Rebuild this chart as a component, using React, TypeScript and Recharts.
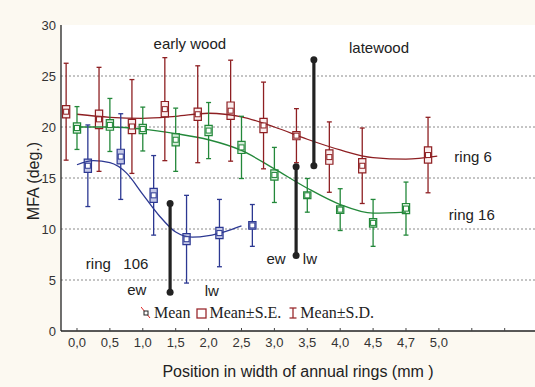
import {
  CartesianGrid,
  ComposedChart,
  Line,
  ReferenceArea,
  ReferenceDot,
  ReferenceLine,
  Scatter,
  XAxis,
  YAxis,
} from 'recharts';

// x axis categories (position across the annual ring, mm)
const categories = ['0,0', '0,5', '1,0', '1,5', '2,0', '2,5', '3,0', '3,5', '4,0', '4,5', '4,7', '5,0'];
const tickSlots = [0, 1, 2, 3, 4, 5, 6, 7, 8, 9, 10, 11, 12, 13];
const yTicks = [0, 5, 10, 15, 20, 25, 30];

// ring 6
const ring6Slots = [0, 1, 2, 3, 4, 5, 6, 7, 8, 9, 11];
const ring6Mean = [21.5, 20.75, 20.05, 21.75, 21.25, 21.6, 20.15, 19.15, 17.05, 16.2, 17.25];
const ring6SE = [0.6, 0.9, 0.7, 0.75, 0.6, 0.85, 0.7, 0.4, 0.7, 0.7, 0.8];
const ring6SD = [4.75, 5.1, 4.6, 5.05, 4.75, 4.95, 4.25, 2.65, 3.45, 3.7, 3.7];
const ring6FitX = [0, 1, 2, 3, 4, 5, 6, 7, 8, 9, 10, 10.95];
const ring6FitY = [21.25, 20.95, 20.85, 21.05, 21.35, 21.0, 20.0, 18.8, 17.75, 17.0, 16.85, 17.15];

// ring 16
const ring16Slots = [0, 1, 2, 3, 4, 5, 6, 7, 8, 9, 10];
const ring16Mean = [19.9, 20.2, 19.8, 18.75, 19.65, 18.0, 15.3, 13.3, 11.9, 10.6, 12.0];
const ring16SE = [0.5, 0.52, 0.45, 0.6, 0.5, 0.6, 0.5, 0.33, 0.36, 0.41, 0.5];
const ring16SD = [2.1, 2.6, 2.15, 3.1, 2.75, 3.05, 2.7, 1.65, 2.05, 2.3, 2.6];
const ring16FitX = [0, 1, 2, 3, 4, 5, 6, 7, 8, 9, 10];
const ring16FitY = [20.0, 20.0, 19.8, 19.35, 18.75, 17.7, 15.9, 14.0, 12.4, 11.55, 11.65];

// ring 106
const ring106Slots = [0, 1, 2, 3, 4, 5];
const ring106Mean = [16.2, 17.1, 13.3, 9.0, 9.6, 10.35];
const ring106SE = [0.65, 0.72, 0.69, 0.54, 0.55, 0.37];
const ring106SD = [4.0, 4.2, 3.9, 4.3, 3.3, 2.05];
const ring106FitX = [0, 0.5, 1, 1.5, 2, 2.5, 3, 3.5, 4, 4.5, 5];
const ring106FitY = [16.3, 16.7, 16.5, 15.5, 13.4, 11.3, 9.7, 9.2, 9.35, 9.75, 10.3];

// earlywood / latewood boundary ranges
const boundaryX = [2.83, 6.66, 7.2];
const boundaryLow = [3.8, 7.4, 16.2];
const boundaryHigh = [12.5, 16.1, 26.6];

const annotations = [
  { text: 'early wood', x: 3.43, y: 28.2 },
  { text: 'latewood', x: 9.18, y: 27.8 },
  { text: 'ring 6', x: 12.04, y: 17.1 },
  { text: 'ring 16', x: 12.0, y: 11.4 },
  { text: 'ring\u00a0\u00a0\u00a0106', x: 1.22, y: 6.6 },
  { text: 'ew', x: 1.82, y: 4.1 },
  { text: 'lw', x: 4.1, y: 4.0 },
  { text: 'ew', x: 6.05, y: 7.05 },
  { text: 'lw', x: 7.08, y: 7.05 },
];

const SANS = '"Liberation Sans", Arial, sans-serif';
const SERIF = '"Liberation Serif", "Times New Roman", serif';
const BOX_HALF = 0.11;
const CAP_HALF = 0.075;

type Stat = { x: number; y: number; se: number; sd: number };

function buildStats(slots: number[], mean: number[], se: number[], sd: number[], offset: number): Stat[] {
  return slots.map((s, i) => ({ x: s + offset, y: mean[i], se: se[i], sd: sd[i] }));
}

function buildFit(xs: number[], ys: number[]) {
  return xs.map((x, i) => ({ x, y: ys[i] }));
}

const series = [
  {
    name: 'ring 6',
    color: '#8e1f22',
    boxFill: '#fbeeee',
    stats: buildStats(ring6Slots, ring6Mean, ring6SE, ring6SD, -0.33),
    fit: buildFit(ring6FitX, ring6FitY),
  },
  {
    name: 'ring 16',
    color: '#23883a',
    boxFill: '#d4ecd8',
    stats: buildStats(ring16Slots, ring16Mean, ring16SE, ring16SD, 0),
    fit: buildFit(ring16FitX, ring16FitY),
  },
  {
    name: 'ring 106',
    color: '#2c3892',
    boxFill: '#c3c7e6',
    stats: buildStats(ring106Slots, ring106Mean, ring106SE, ring106SD, 0.33),
    fit: buildFit(ring106FitX, ring106FitY),
  },
];

function whiskers(s: Stat, color: string, key: string) {
  const lo = s.y - s.sd;
  const hi = s.y + s.sd;
  const common = { stroke: color, strokeWidth: 1.3, ifOverflow: 'visible' as const };
  return [
    <ReferenceLine key={key + 'u'} segment={[{ x: s.x, y: s.y + s.se }, { x: s.x, y: hi }]} {...common} />,
    <ReferenceLine key={key + 'd'} segment={[{ x: s.x, y: lo }, { x: s.x, y: s.y - s.se }]} {...common} />,
    <ReferenceLine key={key + 'ct'} segment={[{ x: s.x - CAP_HALF, y: hi }, { x: s.x + CAP_HALF, y: hi }]} {...common} />,
    <ReferenceLine key={key + 'cb'} segment={[{ x: s.x - CAP_HALF, y: lo }, { x: s.x + CAP_HALF, y: lo }]} {...common} />,
  ];
}

function MeanMarker(props: any) {
  const { cx, cy, fill } = props;
  if (cx == null || cy == null) return <g />;
  return <rect x={cx - 2.5} y={cy - 2.5} width={5} height={5} fill="#ffffff" stroke={fill} strokeWidth={1} />;
}

function LegendBox() {
  return (
    <div
      style={{
        position: 'absolute',
        left: 141,
        top: 304,
        display: 'flex',
        alignItems: 'center',
        fontFamily: SERIF,
        fontSize: 16,
        color: '#222',
        whiteSpace: 'nowrap',
      }}
    >
      <svg width={10} height={12} style={{ marginRight: 3 }}>
        <line x1={0} y1={0} x2={9} y2={11} stroke="#d22" strokeWidth={1} />
        <rect x={3} y={4} width={4} height={4} fill="#fff" stroke="#222" strokeWidth={1} />
      </svg>
      <span>Mean</span>
      <svg width={11} height={11} style={{ marginLeft: 6, marginRight: 2 }}>
        <rect x={1} y={1} width={9} height={9} fill="none" stroke="#9a2a2e" strokeWidth={1.3} />
      </svg>
      <span>Mean±S.E.</span>
      <svg width={10} height={12} style={{ marginLeft: 7, marginRight: 2 }}>
        <line x1={5} y1={1} x2={5} y2={11} stroke="#9a2a2e" strokeWidth={1.3} />
        <line x1={1.5} y1={1} x2={8.5} y2={1} stroke="#9a2a2e" strokeWidth={1.3} />
        <line x1={1.5} y1={11} x2={8.5} y2={11} stroke="#9a2a2e" strokeWidth={1.3} />
      </svg>
      <span>Mean±S.D.</span>
    </div>
  );
}

export default function App() {
  return (
    <div
      style={{
        position: 'absolute',
        left: 0,
        top: 0,
        width: 535,
        height: 387,
        background: '#fcf9f1',
        overflow: 'hidden',
      }}
    >
      <ComposedChart width={535} height={387} margin={{ top: 25, right: 0, bottom: 0, left: 0 }}>
        <CartesianGrid
          vertical={false}
          fill="#ffffff"
          stroke="#8a8a8a"
          strokeDasharray="2 2"
          horizontalValues={[5, 10, 15, 20, 25]}
        />
        <XAxis
          dataKey="x"
          type="number"
          domain={[-0.486, 13.921]}
          allowDataOverflow
          ticks={tickSlots}
          interval={0}
          tickFormatter={(v: number) => categories[v] ?? ''}
          tickSize={-3}
          tickMargin={10}
          tick={{ fontSize: 13, fill: '#333', fontFamily: SANS }}
          stroke="#222"
          axisLine={{ stroke: '#222', strokeWidth: 1.3 }}
          tickLine={{ stroke: '#444' }}
          height={56}
          label={(props: any) => {
            const vb = props.viewBox || {};
            return (
              <text
                x={vb.x + vb.width / 2}
                y={vb.y + 40}
                textAnchor="middle"
                dominantBaseline="central"
                fontSize={16}
                fontFamily={SANS}
                fill="#222"
              >
                Position in width of annual rings (mm )
              </text>
            );
          }}
        />
        <XAxis
          xAxisId="top"
          orientation="top"
          type="number"
          domain={[-0.486, 13.921]}
          allowDataOverflow
          ticks={tickSlots}
          tick={false}
          tickSize={-3}
          height={0}
          axisLine={{ stroke: '#222', strokeWidth: 1.3 }}
          tickLine={{ stroke: '#444' }}
        />
        <YAxis
          type="number"
          domain={[0, 30]}
          ticks={yTicks}
          interval={0}
          width={61}
          tickLine={false}
          tickSize={0}
          tickMargin={5}
          tick={{ fontSize: 13, fill: '#333', fontFamily: SANS }}
          axisLine={{ stroke: '#222', strokeWidth: 1.3 }}
          label={(props: any) => {
            const vb = props.viewBox || {};
            const cx = vb.x + 33;
            const cy = vb.y + vb.height / 2 + 3;
            return (
              <text
                x={cx}
                y={cy}
                transform={`rotate(-90 ${cx} ${cy})`}
                textAnchor="middle"
                dominantBaseline="central"
                fontSize={16}
                fontFamily={SANS}
                fill="#222"
              >
                MFA (deg.)
              </text>
            );
          }}
        />

        {series.map((s) => (
          <Line
            key={s.name + '-fit'}
            data={s.fit}
            dataKey="y"
            type="monotone"
            stroke={s.color}
            strokeWidth={1.3}
            dot={false}
            activeDot={false}
            isAnimationActive={false}
          />
        ))}

        {series.flatMap((s) => s.stats.flatMap((st, i) => whiskers(st, s.color, s.name + i)))}

        {series.flatMap((s) =>
          s.stats.map((st, i) => (
            <ReferenceArea
              key={s.name + '-box' + i}
              x1={st.x - BOX_HALF}
              x2={st.x + BOX_HALF}
              y1={st.y - st.se}
              y2={st.y + st.se}
              fill={s.boxFill}
              fillOpacity={1}
              stroke={s.color}
              strokeWidth={1.2}
              ifOverflow="visible"
            />
          )),
        )}

        {series.map((s) => (
          <Scatter
            key={s.name + '-mean'}
            data={s.stats}
            dataKey="y"
            fill={s.color}
            shape={<MeanMarker />}
            isAnimationActive={false}
          />
        ))}

        {boundaryX.map((x, i) => (
          <ReferenceLine
            key={'b' + i}
            segment={[{ x, y: boundaryLow[i] }, { x, y: boundaryHigh[i] }]}
            stroke="#222"
            strokeWidth={3.2}
          />
        ))}
        {boundaryX.flatMap((x, i) => [
          <ReferenceDot key={'bl' + i} x={x} y={boundaryLow[i]} r={3.5} fill="#222" stroke="none" />,
          <ReferenceDot key={'bh' + i} x={x} y={boundaryHigh[i]} r={3.5} fill="#222" stroke="none" />,
        ])}

        {annotations.map((a, i) => (
          <ReferenceDot
            key={'a' + i}
            x={a.x}
            y={a.y}
            r={1}
            fill="none"
            stroke="none"
            label={{
              value: a.text,
              position: 'center',
              fontSize: 15,
              fill: '#222',
              fontFamily: SANS,
            }}
          />
        ))}
      </ComposedChart>
      <LegendBox />
    </div>
  );
}
